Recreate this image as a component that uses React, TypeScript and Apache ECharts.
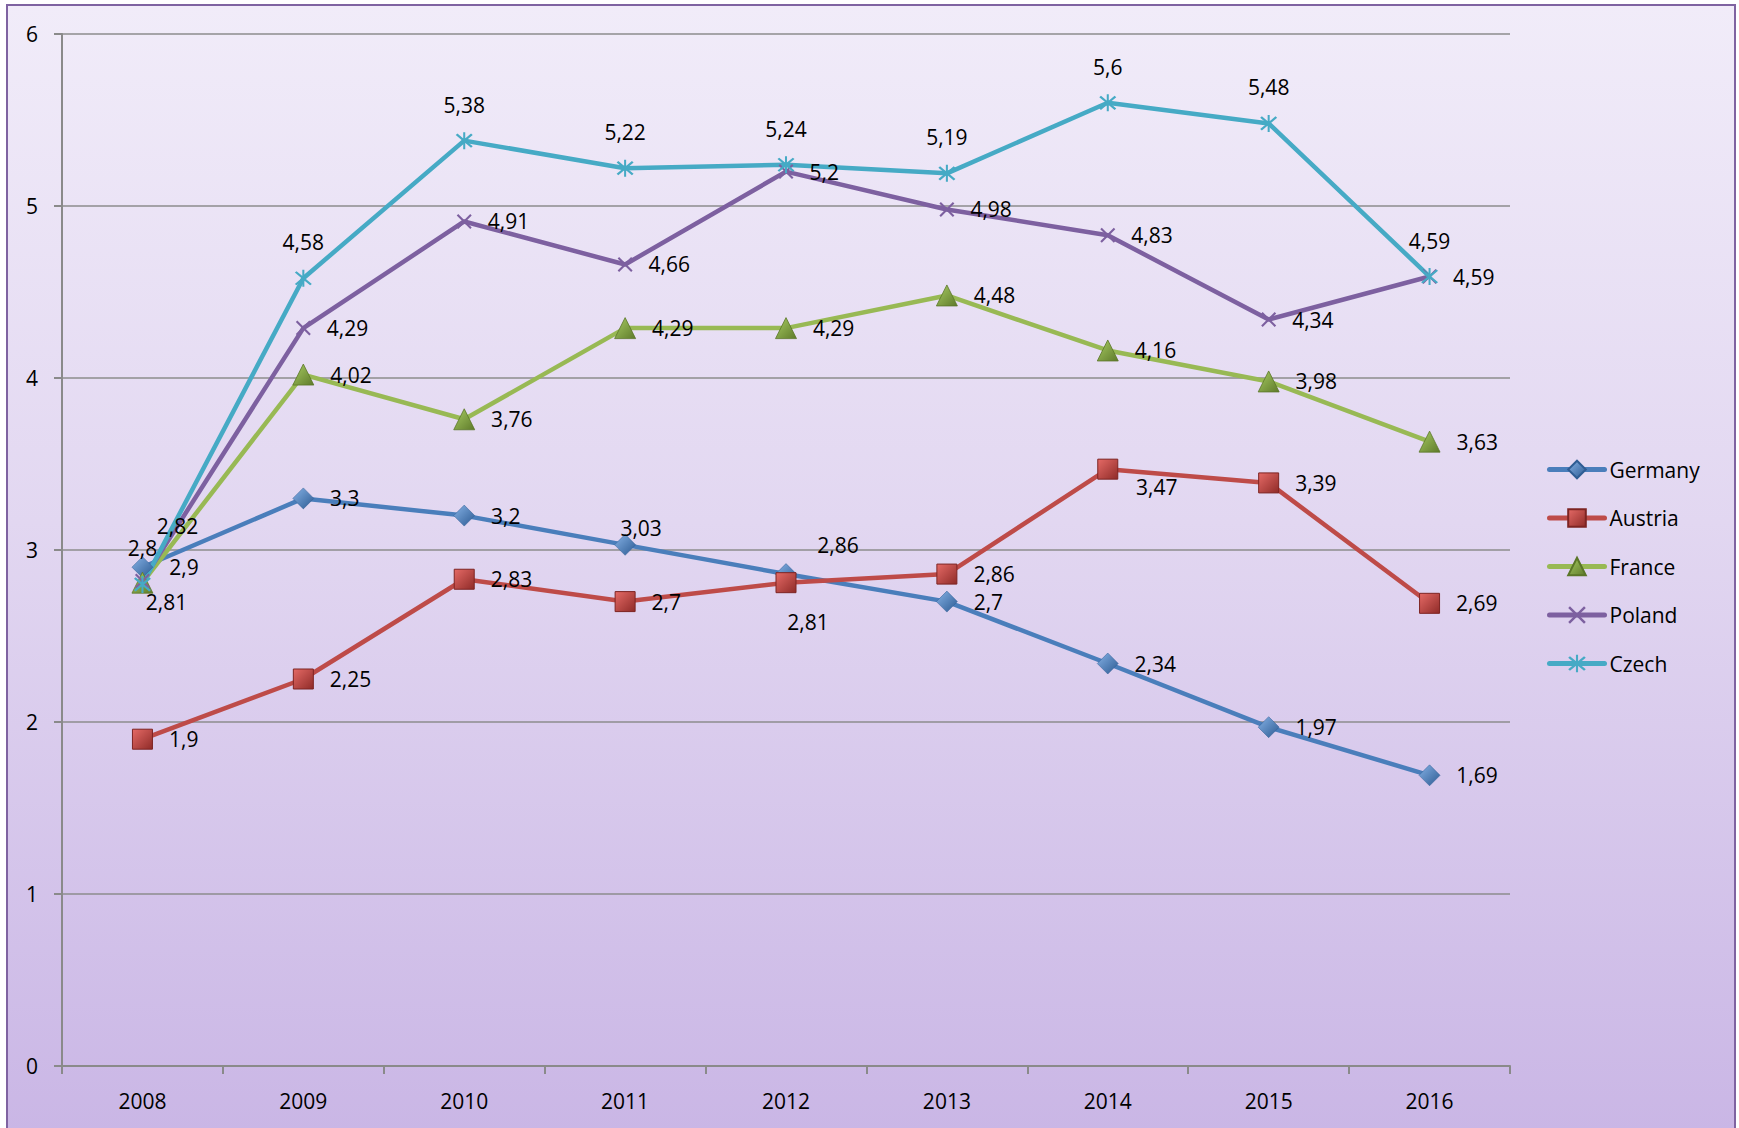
import React, { useEffect, useRef } from "react";
import * as echarts from "echarts";

const years = ["2008", "2009", "2010", "2011", "2012", "2013", "2014", "2015", "2016"];
const germany = [2.9, 3.3, 3.2, 3.03, 2.86, 2.7, 2.34, 1.97, 1.69];
const austria = [1.9, 2.25, 2.83, 2.7, 2.81, 2.86, 3.47, 3.39, 2.69];
const france = [2.81, 4.02, 3.76, 4.29, 4.29, 4.48, 4.16, 3.98, 3.63];
const poland = [2.82, 4.29, 4.91, 4.66, 5.2, 4.98, 4.83, 4.34, 4.59];
const czech = [2.8, 4.58, 5.38, 5.22, 5.24, 5.19, 5.6, 5.48, 4.59];
const yTicks = { min: 0, max: 6, interval: 1 };

const FONT = "'Open Sans', 'Noto Sans', sans-serif";

const xSym = "path://M1,0L5,4L9,0L10,1L6,5L10,9L9,10L5,6L1,10L0,9L4,5L0,1Z";
const starSym =
  "path://M1,0L5,4L9,0L10,1L6,5L10,9L9,10L5,6L1,10L0,9L4,5L0,1Z M4.4,-1L5.6,-1L5.6,11L4.4,11Z";

// label placement tweaks (pixel offsets from marker centre)
const labelTweaks: Record<string, Record<number, [number, number]>> = {
  Germany: { 3: [16, -17], 4: [52, -29] },
  Austria: { 4: [22, 39], 6: [49, 18] },
  France: { 0: [24, 19] },
  Poland: { 0: [35, -55] },
};

function grad(c1: string, c2: string) {
  return {
    type: "linear",
    x: 0,
    y: 0,
    x2: 1,
    y2: 1,
    colorStops: [
      { offset: 0, color: c1 },
      { offset: 1, color: c2 },
    ],
  };
}

const fmt = (p: any) => String(p.value).replace(".", ",");

function makeSeries(
  name: string,
  values: number[],
  lineColor: string,
  symbol: string,
  symbolSize: number,
  itemStyle: any,
  labelPos: string
) {
  const tw = labelTweaks[name] || {};
  return {
    name,
    type: "line",
    data: values.map((v, i) =>
      tw[i]
        ? { value: v, label: { position: "inside", offset: tw[i], align: "center", verticalAlign: "middle" } }
        : v
    ),
    symbol,
    symbolSize,
    showAllSymbol: true,
    lineStyle: { color: lineColor, width: 4.5 },
    itemStyle,
    color: lineColor,
    label: {
      show: true,
      position: labelPos,
      distance: labelPos === "top" ? 17 : 16,
      formatter: fmt,
      color: "#000",
      fontFamily: FONT,
      fontSize: 21,
    },
    emphasis: { disabled: true },
    z: 3,
  };
}

export default function App() {
  const ref = useRef<HTMLDivElement>(null);
  useEffect(() => {
    const chart = echarts.init(ref.current!, null, { renderer: "svg" });
    const option: any = {
      animation: false,
      backgroundColor: "transparent",
      textStyle: { fontFamily: FONT },
      grid: { left: 62, right: 229, top: 34, bottom: 62, containLabel: false },
      legend: {
        orient: "vertical",
        left: 1542,
        top: 454,
        itemWidth: 55,
        itemHeight: 22,
        itemGap: 27.5,
        lineStyle: { width: 5, cap: "round" },
        textStyle: { fontFamily: FONT, fontSize: 21, color: "#000" },
        data: ["Germany", "Austria", "France", "Poland", "Czech"],
      },
      xAxis: {
        type: "category",
        data: years,
        boundaryGap: true,
        axisLine: { show: true, lineStyle: { color: "#8a8a8a", width: 2 } },
        axisTick: { show: true, length: 8, lineStyle: { color: "#8a8a8a", width: 2 } },
        axisLabel: { color: "#000", fontFamily: FONT, fontSize: 21, margin: 24 },
        splitLine: { show: false },
      },
      yAxis: {
        type: "value",
        min: yTicks.min,
        max: yTicks.max,
        interval: yTicks.interval,
        axisLine: { show: true, lineStyle: { color: "#8a8a8a", width: 2 } },
        axisTick: { show: true, length: 8, lineStyle: { color: "#8a8a8a", width: 2 } },
        axisLabel: { color: "#000", fontFamily: FONT, fontSize: 21, margin: 24 },
        splitLine: { show: true, lineStyle: { color: "#8c8c8c", width: 1.5 } },
      },
      series: [
        makeSeries("Germany", germany, "#4A7EBB", "diamond", 21,
          { color: grad("#86b2e6", "#2c5a92"), borderColor: "#2f5d94", borderWidth: 0.5 }, "right"),
        makeSeries("Austria", austria, "#BE4B48", "rect", 20,
          { color: grad("#e56a66", "#8f2b28"), borderColor: "#7d2422", borderWidth: 1 }, "right"),
        makeSeries("France", france, "#98B954", "triangle", 21,
          { color: grad("#a8cc63", "#5e7a2a"), borderColor: "#5b7628", borderWidth: 0.8 }, "right"),
        makeSeries("Poland", poland, "#7D60A0", xSym, 15,
          { color: "#7D60A0" }, "right"),
        makeSeries("Czech", czech, "#46AAC5", starSym, 17,
          { color: "#46AAC5" }, "top"),
      ],
    };
    chart.setOption(option);
    return () => chart.dispose();
  }, []);
  return (
    <div
      style={{
        position: "fixed",
        left: 0,
        top: 0,
        width: 1739,
        height: 1128,
        background: "#fff",
        overflow: "hidden",
      }}
    >
      <div
        style={{
          position: "absolute",
          left: 6,
          top: 4,
          width: 1730,
          height: 1150,
          boxSizing: "border-box",
          border: "2px solid #7F63A1",
          background: "linear-gradient(180deg, #F1ECF9 0%, #E2D7F1 45%, #C9B5E5 100%)",
        }}
      />
      <div ref={ref} style={{ position: "absolute", left: 0, top: 0, width: 1739, height: 1128 }} />
    </div>
  );
}
